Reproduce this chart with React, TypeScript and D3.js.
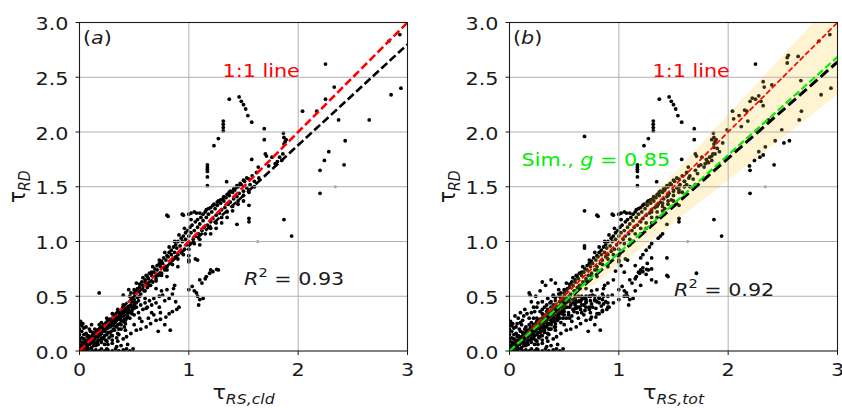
import React from 'react';
import * as d3 from 'd3';

// ---------- tick labels ----------
const xTicks = [0, 1, 2, 3];
const xTickLabels = ['0', '1', '2', '3'];
const yTicks = [0, 0.5, 1, 1.5, 2, 2.5, 3];
const yTickLabels = ['0.0', '0.5', '1.0', '1.5', '2.0', '2.5', '3.0'];

// ---------- fitted / reference lines ----------
const lineXs = [0, 3];
const oneToOne = { slope: 1, intercept: 0 };
const fitA = { slope: 0.92, intercept: 0.04 };
const fitB = { slope: 0.88, intercept: 0 };
const simB = { slope: 0.895, intercept: 0 };
const bandB = { lower: 0.78, upper: 1.08 };

// ---------- scatter data ----------
const sharedOutliers: number[][] = [
  [2.25, 2.62], [2.33, 2.41], [2.25, 2.3], [2.04, 2.19], [2.17, 2.19], [2.37, 2.11], [2.65, 2.11],
  [2.85, 2.34], [2.94, 2.4], [2.93, 2.89], [2.83, 2.83], [2.43, 1.92], [2.28, 1.82], [2.24, 1.74],
  [2.2, 1.65], [2.42, 1.7], [2.2, 1.44],
  [1.37, 2.3], [1.46, 2.32], [1.48, 2.28], [1.5, 2.25], [1.52, 2.21], [1.54, 2.15], [1.575, 2.09],
  [1.315, 2.1], [1.315, 2.07], [1.315, 2.04], [1.315, 2.01], [1.27, 1.94], [1.23, 1.875],
  [1.69, 2.03], [1.69, 1.93], [1.7, 1.8], [1.71, 1.78], [1.575, 1.75], [1.73, 1.69],
  [1.17, 1.7], [1.17, 1.68], [1.17, 1.66], [1.17, 1.64], [1.17, 1.59], [1.17, 1.51],
  [1.346, 1.546], [1.55, 1.33], [1.55, 1.21], [1.55, 1.18], [1.87, 1.2], [1.94, 1.05], [1.44, 1.157],
  [1.865, 1.99], [1.87, 1.95], [1.88, 1.91], [1.87, 1.89], [1.89, 1.93],
  [1.635, 1.68], [1.76, 1.77], [1.83, 1.77], [1.86, 1.8], [1.85, 1.74], [1.81, 1.73], [1.79, 1.71],
];

const grayPoints: number[][] = [[1.63, 1.0], [2.34, 1.5]];

const nearLine: number[][] = [
  [0.46, 0.5], [0.48, 0.45], [0.5, 0.53], [0.5, 0.47], [0.52, 0.55], [0.53, 0.49], [0.55, 0.58], [0.56, 0.52],
  [0.58, 0.6], [0.59, 0.55], [0.6, 0.63], [0.62, 0.58], [0.63, 0.66], [0.64, 0.6], [0.66, 0.69], [0.67, 0.63],
  [0.68, 0.72], [0.7, 0.66], [0.71, 0.74], [0.72, 0.69], [0.74, 0.77], [0.75, 0.71], [0.76, 0.8], [0.78, 0.74],
  [0.79, 0.83], [0.8, 0.77], [0.81, 0.86], [0.83, 0.8], [0.84, 0.88], [0.85, 0.83], [0.87, 0.9], [0.88, 0.86],
  [0.89, 0.94], [0.9, 0.88], [0.92, 0.96], [0.93, 0.91], [0.94, 1.0], [0.96, 0.93], [0.97, 1.02], [0.98, 0.97],
  [1.0, 1.05], [1.01, 0.99], [1.02, 1.08], [1.04, 1.02], [1.05, 1.1], [1.06, 1.05], [1.08, 1.13], [1.09, 1.07],
  [1.1, 1.16], [1.12, 1.1], [1.13, 1.19], [1.14, 1.13], [1.16, 1.22], [1.17, 1.15], [1.18, 1.25], [1.2, 1.18],
  [1.21, 1.27], [1.22, 1.21], [1.24, 1.3], [1.25, 1.24], [1.26, 1.33], [1.28, 1.26], [1.29, 1.35], [1.3, 1.29],
  [1.32, 1.37], [1.33, 1.31], [1.34, 1.4], [1.36, 1.34], [1.37, 1.42], [1.38, 1.36], [1.4, 1.45], [1.41, 1.39],
  [1.42, 1.47], [1.44, 1.41], [1.45, 1.5], [1.46, 1.44], [1.48, 1.52], [1.5, 1.46], [1.51, 1.55], [1.53, 1.49],
  [1.55, 1.57], [1.56, 1.52], [1.58, 1.6], [1.6, 1.55], [1.62, 1.63], [1.64, 1.58],
  [0.4, 0.51], [0.45, 0.56], [0.52, 0.62], [0.58, 0.67], [0.61, 0.69], [0.67, 0.77], [0.73, 0.83], [0.78, 0.9],
  [0.82, 0.95], [0.87, 1.0], [0.91, 1.06], [0.96, 1.12], [1.02, 1.2], [1.1, 1.26], [1.16, 1.29], [1.22, 1.33],
  [1.27, 1.37], [1.31, 1.39], [1.37, 1.45], [1.43, 1.49], [1.47, 1.52],
  [0.8, 1.24], [0.81, 1.23], [0.94, 1.25], [0.95, 1.24], [1.0, 1.25], [1.02, 1.26], [1.05, 1.27], [1.07, 1.26],
  [0.6, 0.48], [0.7, 0.57], [0.8, 0.68], [0.9, 0.77], [1.0, 0.87], [1.1, 0.97], [1.2, 1.07], [1.3, 1.17],
  [1.4, 1.28], [1.5, 1.37], [1.55, 1.45], [1.45, 1.34], [1.35, 1.22], [1.25, 1.12],
];

const nearLineUpper: number[][] = [
  [0.47, 0.53], [0.5, 0.56], [0.53, 0.57], [0.55, 0.61], [0.57, 0.63], [0.6, 0.65], [0.62, 0.68], [0.64, 0.71],
  [0.66, 0.72], [0.69, 0.75], [0.71, 0.78], [0.73, 0.8], [0.75, 0.82], [0.77, 0.85], [0.8, 0.87], [0.82, 0.9],
  [0.84, 0.92], [0.86, 0.95], [0.88, 0.97], [0.9, 1.0], [0.93, 1.03], [0.95, 1.05], [0.97, 1.08], [0.99, 1.1],
  [1.01, 1.13], [1.03, 1.15], [1.06, 1.18], [1.08, 1.2], [1.11, 1.22], [1.13, 1.25], [1.15, 1.27], [1.18, 1.3],
  [1.2, 1.31], [1.23, 1.34], [1.26, 1.36], [1.29, 1.38], [1.32, 1.41], [1.35, 1.43], [1.38, 1.46], [1.41, 1.48],
  [1.44, 1.51], [1.47, 1.53], [1.5, 1.56], [1.53, 1.58],
];

const nearLineLower: number[][] = [
  [0.5, 0.45], [0.55, 0.5], [0.6, 0.55], [0.65, 0.6], [0.7, 0.64], [0.75, 0.69], [0.8, 0.74], [0.85, 0.79],
  [0.9, 0.84], [0.95, 0.88], [1.0, 0.93], [1.05, 0.98], [1.1, 1.02], [1.15, 1.07], [1.2, 1.12], [1.25, 1.17],
  [1.3, 1.22], [1.35, 1.27], [1.4, 1.32], [1.45, 1.37], [1.5, 1.42], [1.55, 1.47], [1.6, 1.5],
];

const coreA: number[][] = [
  [0.01, 0.02], [0.02, 0.05], [0.03, 0.01], [0.04, 0.07], [0.05, 0.03], [0.06, 0.09], [0.07, 0.04], [0.08, 0.1],
  [0.09, 0.06], [0.1, 0.12], [0.1, 0.02], [0.11, 0.08], [0.12, 0.14], [0.13, 0.05], [0.14, 0.11], [0.15, 0.17],
  [0.16, 0.08], [0.17, 0.13], [0.18, 0.19], [0.19, 0.1], [0.2, 0.16], [0.21, 0.22], [0.22, 0.12], [0.23, 0.18],
  [0.24, 0.25], [0.25, 0.15], [0.26, 0.21], [0.27, 0.27], [0.28, 0.17], [0.29, 0.23], [0.3, 0.3], [0.31, 0.2],
  [0.32, 0.26], [0.33, 0.32], [0.34, 0.22], [0.35, 0.29], [0.36, 0.34], [0.37, 0.25], [0.38, 0.31], [0.39, 0.37],
  [0.4, 0.27], [0.41, 0.33], [0.42, 0.39], [0.43, 0.3], [0.44, 0.36], [0.45, 0.41],
  [0.0, 0.0], [0.0, 0.05], [0.0, 0.1], [0.0, 0.15], [0.0, 0.2], [0.0, 0.25], [0.01, 0.27], [0.02, 0.23],
  [0.02, 0.12], [0.04, 0.15], [0.05, 0.1], [0.06, 0.16], [0.08, 0.02], [0.1, 0.18], [0.12, 0.08], [0.14, 0.2],
  [0.16, 0.14], [0.18, 0.24], [0.2, 0.08], [0.22, 0.2], [0.24, 0.1], [0.26, 0.28], [0.28, 0.22], [0.3, 0.14],
  [0.32, 0.33], [0.34, 0.28], [0.36, 0.2], [0.38, 0.36], [0.4, 0.35], [0.42, 0.25], [0.44, 0.4], [0.2, 0.26],
  [0.25, 0.3], [0.3, 0.34], [0.35, 0.38], [0.4, 0.42], [0.18, 0.53], [0.03, 0.25], [0.06, 0.0], [0.11, 0.03],
  [0.15, 0.05], [0.19, 0.15], [0.23, 0.06], [0.27, 0.12], [0.07, 0.13], [0.13, 0.16],
  [0.05, 0.06], [0.08, 0.07], [0.12, 0.11], [0.15, 0.13], [0.18, 0.16], [0.21, 0.18], [0.24, 0.2], [0.27, 0.24],
  [0.3, 0.26], [0.33, 0.29], [0.36, 0.31], [0.39, 0.34], [0.42, 0.36], [0.45, 0.38], [0.03, 0.04], [0.07, 0.01],
  [0.09, 0.13], [0.13, 0.09], [0.17, 0.06], [0.21, 0.11], [0.25, 0.09], [0.29, 0.18], [0.32, 0.23], [0.35, 0.16],
  [0.38, 0.28], [0.41, 0.22], [0.44, 0.32], [0.47, 0.42], [0.48, 0.34], [0.5, 0.39], [0.26, 0.06], [0.3, 0.1],
  [0.34, 0.12], [0.02, 0.18], [0.04, 0.21], [0.06, 0.22], [0.09, 0.2], [0.11, 0.24],
  [0.02, 0.08], [0.04, 0.11], [0.06, 0.05], [0.08, 0.14], [0.1, 0.07], [0.12, 0.17], [0.14, 0.06], [0.16, 0.19],
  [0.17, 0.1], [0.19, 0.21], [0.2, 0.12], [0.22, 0.24], [0.23, 0.14], [0.25, 0.22], [0.26, 0.17], [0.28, 0.27],
  [0.29, 0.14], [0.31, 0.28], [0.32, 0.19], [0.34, 0.31], [0.35, 0.24], [0.37, 0.33], [0.38, 0.2], [0.4, 0.38],
  [0.41, 0.29], [0.43, 0.37], [0.46, 0.35], [0.48, 0.4], [0.5, 0.42], [0.52, 0.44], [0.54, 0.46],
];

const lowerA: number[][] = [
  [1.0, 0.83], [1.08, 0.83], [1.2, 0.74], [1.27, 0.74], [1.06, 0.84], [1.0, 0.815], [1.03, 0.59], [1.07, 0.53],
  [1.1, 0.47], [1.13, 0.48], [1.09, 0.42], [1.255, 0.746], [1.22, 0.724], [1.19, 0.71], [1.16, 0.68],
  [1.15, 0.66], [1.1, 0.65], [1.12, 0.62], [0.87, 0.6], [1.0, 0.56], [1.05, 0.55], [1.08, 0.5],
  [0.3, 0.25], [0.33, 0.27], [0.36, 0.3], [0.38, 0.24], [0.4, 0.32], [0.42, 0.28], [0.44, 0.35], [0.46, 0.3],
  [0.48, 0.37], [0.5, 0.33], [0.52, 0.4], [0.54, 0.35], [0.56, 0.42], [0.58, 0.38], [0.6, 0.44], [0.62, 0.4],
  [0.64, 0.46], [0.66, 0.42], [0.68, 0.48], [0.7, 0.44], [0.73, 0.5], [0.76, 0.51], [0.78, 0.46], [0.82, 0.48],
  [0.85, 0.52], [0.88, 0.45], [0.91, 0.4], [0.73, 0.4], [0.61, 0.39], [0.55, 0.3], [0.66, 0.35], [0.75, 0.55],
  [0.8, 0.56], [0.86, 0.57],
  [0.25, 0.02], [0.3, 0.07], [0.35, 0.09], [0.4, 0.11], [0.43, 0.13], [0.47, 0.16], [0.52, 0.19], [0.56, 0.2],
  [0.61, 0.22], [0.65, 0.25], [0.7, 0.28], [0.74, 0.29], [0.79, 0.31], [0.82, 0.34], [0.85, 0.36], [0.89, 0.38],
  [0.36, 0.15], [0.42, 0.19], [0.5, 0.24], [0.57, 0.27], [0.63, 0.3], [0.68, 0.33], [0.74, 0.35], [0.83, 0.19],
  [0.78, 0.24], [0.72, 0.18],
  [0.12, 0.0], [0.15, 0.01], [0.18, 0.0], [0.2, 0.02], [0.23, 0.0], [0.26, 0.01], [0.3, 0.0], [0.33, 0.02],
  [0.36, 0.0], [0.4, 0.01], [0.43, 0.02], [0.46, 0.0], [0.49, 0.02], [0.38, 0.05], [0.44, 0.06], [0.34, 0.04],
];

const extraB: number[][] = [
  [0.686, 1.96], [0.686, 1.28], [0.686, 0.96], [0.686, 0.94],
  [0.2, 0.35], [0.22, 0.3], [0.25, 0.4], [0.28, 0.36], [0.3, 0.45], [0.32, 0.4], [0.35, 0.48], [0.37, 0.44],
  [0.4, 0.5], [0.42, 0.46], [0.45, 0.52], [0.47, 0.48], [0.5, 0.5], [0.52, 0.46], [0.55, 0.5], [0.58, 0.47],
  [0.6, 0.5], [0.63, 0.5], [0.66, 0.5], [0.7, 0.5], [0.74, 0.5], [0.78, 0.5], [0.82, 0.49], [0.86, 0.5],
  [0.9, 0.5], [0.94, 0.51],
  [0.25, 0.2], [0.3, 0.22], [0.35, 0.25], [0.4, 0.3], [0.45, 0.33], [0.5, 0.36], [0.55, 0.4], [0.6, 0.42],
  [0.65, 0.45], [0.7, 0.47], [0.3, 0.3], [0.35, 0.33], [0.4, 0.38], [0.45, 0.4], [0.5, 0.43], [0.55, 0.45],
  [0.6, 0.47], [0.65, 0.38], [0.7, 0.4], [0.75, 0.43], [0.8, 0.45], [0.85, 0.47], [0.9, 0.44], [0.22, 0.15],
  [0.27, 0.13], [0.32, 0.17], [0.37, 0.2], [0.42, 0.22], [0.47, 0.26], [0.52, 0.3], [0.57, 0.32], [0.62, 0.35],
  [0.15, 0.22], [0.12, 0.28], [0.08, 0.3], [0.05, 0.32], [0.1, 0.35], [0.14, 0.38], [0.2, 0.45], [0.24, 0.5],
  [0.19, 0.51], [0.28, 0.55], [0.33, 0.6], [0.38, 0.65], [0.42, 0.62], [0.3, 0.63],
  [0.25, 0.27], [0.28, 0.29], [0.31, 0.32], [0.34, 0.36], [0.38, 0.4], [0.42, 0.42], [0.46, 0.45], [0.5, 0.47],
  [0.54, 0.47], [0.58, 0.44], [0.62, 0.45], [0.66, 0.47], [0.7, 0.45], [0.74, 0.46], [0.78, 0.47], [0.82, 0.44],
  [0.86, 0.43], [0.3, 0.38], [0.34, 0.42], [0.38, 0.45], [0.42, 0.49], [0.46, 0.5], [0.36, 0.36], [0.44, 0.38],
  [0.52, 0.4], [0.6, 0.39], [0.68, 0.42], [0.76, 0.4], [0.84, 0.41], [0.28, 0.2], [0.33, 0.22], [0.38, 0.26],
  [0.44, 0.28], [0.49, 0.3], [0.54, 0.33], [0.59, 0.36], [0.64, 0.4], [0.69, 0.37], [0.73, 0.38], [0.79, 0.39],
  [0.18, 0.3], [0.16, 0.34], [0.22, 0.4], [0.26, 0.44], [0.23, 0.36], [0.13, 0.32], [0.1, 0.26], [0.07, 0.25],
  [1.44, 0.85], [1.44, 0.69], [1.45, 0.68], [1.71, 0.71], [1.34, 0.63], [1.38, 1.05], [1.4, 1.07], [1.36, 1.03],
  [1.3, 0.98], [1.28, 0.95], [1.25, 0.92], [1.22, 0.88], [1.2, 0.85], [1.3, 0.85], [1.26, 0.8], [1.22, 0.76],
  [1.18, 0.72], [1.3, 0.75], [1.25, 0.7], [1.15, 0.78], [1.05, 0.72], [0.95, 0.65], [0.9, 0.62],
  [1.02, 0.78], [0.97, 0.73], [1.3, 0.65], [1.2, 0.6], [1.15, 0.55], [1.05, 0.5], [1.0, 0.47], [0.95, 0.44],
  [0.9, 0.4], [0.85, 0.37], [0.8, 0.34], [0.75, 0.31],
  [1.55, 1.5], [1.6, 1.55], [1.62, 1.52], [1.65, 1.6], [1.68, 1.57], [1.7, 1.65], [1.72, 1.62], [1.75, 1.7],
  [1.78, 1.68], [1.8, 1.75], [1.82, 1.72], [1.85, 1.78], [1.88, 1.8], [1.9, 1.85], [1.92, 1.82], [1.95, 1.9],
  [1.87, 1.86], [1.85, 1.93], [1.99, 2.02], [2.05, 2.12], [2.1, 2.15], [2.15, 2.2], [2.18, 2.1], [2.12, 2.05],
  [2.2, 2.28], [2.22, 2.31], [2.28, 2.33], [2.3, 2.28], [2.32, 2.24], [2.32, 2.46], [2.4, 2.43],
  [2.54, 2.68], [2.55, 2.7], [2.54, 2.63], [2.64, 2.69], [2.665, 2.47], [2.67, 2.19], [2.49, 2.02],
  [2.56, 1.92], [2.51, 1.9], [2.34, 1.865], [2.32, 1.79], [2.29, 1.77], [2.195, 1.69],
  [1.45, 1.42], [1.5, 1.47], [1.4, 1.35], [1.35, 1.32], [1.3, 1.27], [1.42, 1.3], [1.48, 1.38], [1.58, 1.45],
  [1.65, 1.5], [1.7, 1.52],
];

const pointsA = [...coreA, ...lowerA, ...nearLine, ...nearLineUpper, ...nearLineLower, ...sharedOutliers];
const pointsB = [...coreA, ...lowerA, ...nearLine, ...nearLineUpper, ...nearLineLower, ...extraB, ...sharedOutliers];

// ---------- layout ----------
const W = 842;
const H = 408;
const TOP = 22.5;
const BOTTOM = 351;
const PLOT_W = 328;
const FONT = 'DejaVu Sans, sans-serif';
const FS = 18.5;
const SX = 1.12;
const INK = '#1a1a1a';

function T(props: {
  x: number;
  y: number;
  size?: number;
  anchor?: string;
  fill?: string;
  rotate?: boolean;
  children: React.ReactNode;
}) {
  const { x, y, size = FS, anchor = 'start', fill = INK, rotate, children } = props;
  const tf = rotate ? `translate(${x},${y}) rotate(-90) scale(1,${SX})` : `translate(${x},${y}) scale(${SX},1)`;
  return (
    <text transform={tf} x={0} y={0} textAnchor={anchor} fontFamily={FONT} fontSize={size} fill={fill}>
      {children}
    </text>
  );
}

type Line = { slope: number; intercept: number; color: string; width: number; dash: string };

function Panel(props: {
  id: string;
  left: number;
  points: number[][];
  tag: string;
  xSub: string;
  r2: string;
  r2y: number;
  lines: Line[];
  band?: { lower: number; upper: number };
  sim?: boolean;
}) {
  const { id, left, points, tag, xSub, r2, r2y, lines, band, sim } = props;
  const x = d3.scaleLinear().domain([0, 3]).range([left, left + PLOT_W]);
  const y = d3.scaleLinear().domain([0, 3]).range([BOTTOM, TOP]);
  const bandPath = band
    ? d3
        .area<number>()
        .x((d) => x(d))
        .y0((d) => y(band.lower * d))
        .y1((d) => y(band.upper * d))(lineXs)
    : null;
  const clip = `clip-${id}`;
  return (
    <g>
      <defs>
        <clipPath id={clip}>
          <rect x={x(0)} y={y(3)} width={x(3) - x(0)} height={y(0) - y(3)} />
        </clipPath>
      </defs>
      <g clipPath={`url(#${clip})`}>
        {points.map((p, i) => (
          <circle key={i} cx={x(p[0])} cy={y(p[1])} r={1.9} fill="#000" />
        ))}
        {grayPoints.map((p, i) => (
          <circle key={'g' + i} cx={x(p[0])} cy={y(p[1])} r={1.5} fill="#999" />
        ))}
        {bandPath && <path d={bandPath} fill="#ffcc33" fillOpacity={0.22} stroke="none" />}
        {xTicks.slice(1, 3).map((t) => (
          <line key={'gx' + t} x1={x(t)} x2={x(t)} y1={y(0)} y2={y(3)} stroke="#b0b0b0" strokeWidth={1} />
        ))}
        {yTicks.slice(1, 6).map((t) => (
          <line key={'gy' + t} x1={x(0)} x2={x(3)} y1={y(t)} y2={y(t)} stroke="#b0b0b0" strokeWidth={1} />
        ))}
        {lines.map((l, i) => (
          <path
            key={'l' + i}
            d={
              d3
                .line<number>()
                .x((d) => x(d))
                .y((d) => y(l.intercept + l.slope * d))(lineXs) || ''
            }
            fill="none"
            stroke={l.color}
            strokeWidth={l.width}
            strokeDasharray={l.dash}
          />
        ))}
      </g>
      <rect x={x(0)} y={y(3)} width={x(3) - x(0)} height={y(0) - y(3)} fill="none" stroke={INK} strokeWidth={1.1} />
      {xTicks.map((t, i) => (
        <g key={'xt' + t}>
          <line x1={x(t)} x2={x(t)} y1={BOTTOM} y2={BOTTOM + 4} stroke={INK} strokeWidth={1} />
          <T x={x(t)} y={BOTTOM + 25} anchor="middle">
            {xTickLabels[i]}
          </T>
        </g>
      ))}
      {yTicks.map((t, i) => (
        <g key={'yt' + t}>
          <line x1={left - 4} x2={left} y1={y(t)} y2={y(t)} stroke={INK} strokeWidth={1} />
          <T x={left - 11} y={y(t) + 7.5} anchor="end">
            {yTickLabels[i]}
          </T>
        </g>
      ))}
      <T x={x(1.5)} y={399} anchor="middle" size={20}>
        τ
        <tspan fontSize={14} fontStyle="italic" dy={4.5}>
          {xSub}
        </tspan>
      </T>
      <T x={left - 55} y={(TOP + BOTTOM) / 2} anchor="middle" size={20} rotate>
        τ
        <tspan fontSize={14} fontStyle="italic" dy={4.5}>
          RD
        </tspan>
      </T>
      <T x={left + 3.5} y={44}>
        (<tspan fontStyle="italic">{tag}</tspan>)
      </T>
      <T x={left + 143} y={76.5} fill="red">
        1:1 line
      </T>
      {sim && (
        <T x={left + 12} y={165.5} fill="#00ee00">
          Sim., <tspan fontStyle="italic">g</tspan> = 0.85
        </T>
      )}
      <T x={left + 164.5} y={r2y}>
        <tspan fontStyle="italic">R</tspan>
        <tspan fontSize={13} dy={-8}>
          2
        </tspan>
        <tspan dy={8}> = {r2}</tspan>
      </T>
    </g>
  );
}

export default function App() {
  return (
    <svg width={W} height={H} viewBox={`0 0 ${W} ${H}`} style={{ position: 'absolute', left: 0, top: 0 }}>
      <rect x={0} y={0} width={W} height={H} fill="#fff" />
      <Panel
        id="a"
        left={79.5}
        points={pointsA}
        tag="a"
        xSub="RS,cld"
        r2="0.93"
        r2y={285}
        lines={[
          { ...oneToOne, color: 'red', width: 2.6, dash: '8,3.4' },
          { ...fitA, color: '#000', width: 2.6, dash: '8,3.4' },
        ]}
      />
      <Panel
        id="b"
        left={509.5}
        points={pointsB}
        tag="b"
        xSub="RS,tot"
        r2="0.92"
        r2y={296}
        band={bandB}
        sim
        lines={[
          { ...oneToOne, color: 'red', width: 1.7, dash: '5.5,2.4' },
          { ...fitB, color: '#000', width: 3, dash: '10,4.3' },
          { ...simB, color: '#00ee00', width: 2.2, dash: '7.4,3.2' },
        ]}
      />
    </svg>
  );
}
